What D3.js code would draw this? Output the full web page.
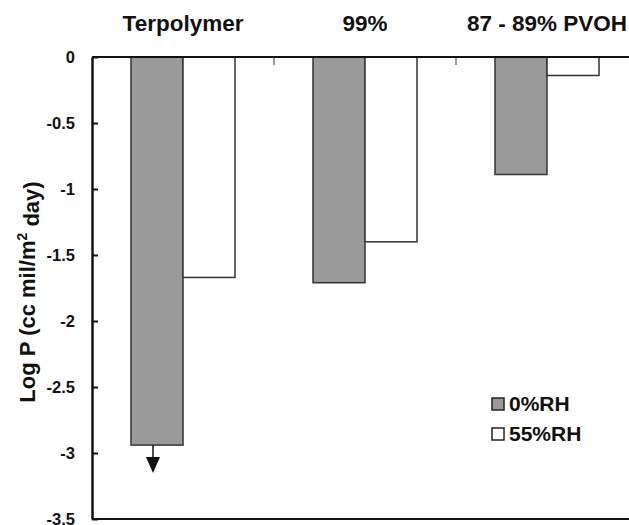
<!DOCTYPE html>
<html>
<head>
<meta charset="utf-8">
<script src="https://cdn.jsdelivr.net/npm/d3@7"></script>
<style>
  body { margin: 0; background: #fff; }
  text { font-family: "Liberation Sans", Arial, sans-serif; font-weight: bold; fill: #111; }
</style>
</head>
<body>
<script>
// data
var categories = ["Terpolymer", "99%", "87 - 89% PVOH"];
var series = ["0%RH", "55%RH"];
var rh0 = [-2.94, -1.71, -0.89];
var rh55 = [-1.67, -1.40, -0.14];
var yTicks = [0, -0.5, -1, -1.5, -2, -2.5, -3, -3.5];
var yTickLabels = ["0", "-0.5", "-1", "-1.5", "-2", "-2.5", "-3", "-3.5"];
var colors = ["#9a9a9a", "#ffffff"];

var width = 629, height = 525;
var plotLeft = 92, plotTop = 57, plotBottom = 519, plotRight = 638;
var groupWidth = 104;

var svg = d3.select("body").append("svg").attr("width", width).attr("height", height);

// scales
var xScale = d3.scaleBand().domain(categories).range([plotLeft, plotRight]);
var xSub = d3.scaleBand().domain(series).range([0, groupWidth]);
var yScale = d3.scaleLinear().domain([0, -3.5]).range([plotTop, plotBottom]);

var values = [rh0, rh55];

// bars
series.forEach(function(s, si) {
    svg.append("g").selectAll("rect").data(values[si]).enter()
        .append("rect")
        .attr("x", function(d, i) { return xScale(categories[i]) + (xScale.bandwidth() - groupWidth) / 2 + xSub(s); })
        .attr("y", yScale(0))
        .attr("width", xSub.bandwidth())
        .attr("height", function(d) { return yScale(d) - yScale(0); })
        .attr("fill", colors[si])
        .attr("stroke", "#333")
        .attr("stroke-width", 1.5);
});

// arrow under the terpolymer 0%RH bar (upper limit)
var ax = xScale(categories[0]) + (xScale.bandwidth() - groupWidth) / 2 + xSub(series[0]) + xSub.bandwidth() / 2 - 4;
var ay = yScale(rh0[0]);
svg.append("line").attr("x1", ax).attr("x2", ax).attr("y1", ay).attr("y2", ay + 14)
    .attr("stroke", "#111").attr("stroke-width", 1.5);
svg.append("path")
    .attr("d", "M" + (ax - 7) + "," + (ay + 12) + "L" + (ax + 7) + "," + (ay + 12) + "L" + ax + "," + (ay + 28) + "Z")
    .attr("fill", "#111");

// top line (zero) and bottom line
svg.append("line").attr("x1", plotLeft).attr("x2", width).attr("y1", yScale(0)).attr("y2", yScale(0))
    .attr("stroke", "#111").attr("stroke-width", 2);
svg.append("line").attr("x1", plotLeft).attr("x2", width).attr("y1", yScale(-3.5)).attr("y2", yScale(-3.5))
    .attr("stroke", "#111").attr("stroke-width", 2);

// small ticks between categories
svg.append("g").selectAll("line").data(categories.slice(1)).enter()
    .append("line")
    .attr("x1", function(c) { return xScale(c); })
    .attr("x2", function(c) { return xScale(c); })
    .attr("y1", yScale(0))
    .attr("y2", yScale(0) + 8)
    .attr("stroke", "#333").attr("stroke-width", 1);

// category labels on top
svg.append("g").selectAll("text").data(categories).enter()
    .append("text")
    .attr("x", function(c) { return xScale(c) + xScale.bandwidth() / 2; })
    .attr("y", 31)
    .attr("text-anchor", "middle")
    .style("font-size", "22.5px")
    .text(function(c) { return c; });

// y axis
var yAxis = d3.axisLeft(yScale).tickValues(yTicks)
    .tickFormat(function(d, i) { return yTickLabels[i]; })
    .tickSizeInner(-6).tickSizeOuter(0).tickPadding(17);
var yg = svg.append("g").attr("transform", "translate(" + plotLeft + ",0)").call(yAxis);
yg.select(".domain").attr("stroke", "#111").attr("stroke-width", 2.5);
yg.selectAll(".tick line").attr("stroke", "#111").attr("stroke-width", 2);
yg.selectAll(".tick text").style("font-size", "16.5px").style("font-family", "Liberation Sans, Arial, sans-serif")
    .style("font-weight", "bold").attr("fill", "#111");

// y axis title
var title = svg.append("text")
    .attr("transform", "translate(35," + ((plotTop + plotBottom) / 2 + 4) + ") rotate(-90)")
    .attr("text-anchor", "middle")
    .style("font-size", "22px");
title.append("tspan").text("Log P (cc mil/m");
title.append("tspan").attr("dy", "-0.55em").style("font-size", "14px").text("2");
title.append("tspan").attr("dy", "0.55em").text(" day)");

// legend
var legend = svg.append("g").selectAll("g").data(series).enter()
    .append("g")
    .attr("transform", function(d, i) { return "translate(492," + (398 + i * 30) + ")"; });
legend.append("rect").attr("width", 12).attr("height", 12)
    .attr("fill", function(d, i) { return colors[i]; })
    .attr("stroke", "#222").attr("stroke-width", 1.5);
legend.append("text").attr("x", 17).attr("y", 12.5)
    .style("font-size", "21px")
    .text(function(d) { return d; });
</script>
</body>
</html>
